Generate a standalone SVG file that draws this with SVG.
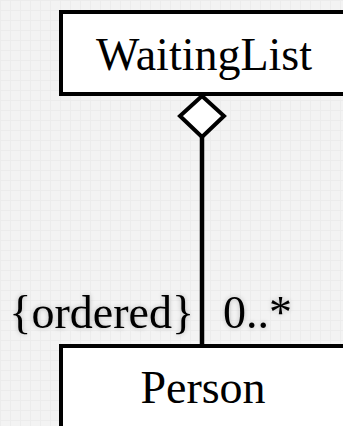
<svg xmlns="http://www.w3.org/2000/svg" width="343" height="426" viewBox="0 0 343 426">
<style>
.box{fill:#ffffff;stroke:#000000;stroke-width:4}
.lbl{font-family:"Liberation Serif","Times New Roman",serif;font-size:46px;fill:#000000}
.conn{stroke:#000000;stroke-width:4.5;fill:none}
</style>
<defs>
<pattern id="grid" width="10" height="10" patternUnits="userSpaceOnUse">
<rect width="10" height="10" fill="#f3f3f3"/>
<path d="M0 0.5H10M0.5 0V10" stroke="#ececec" stroke-width="1"/>
</pattern>
<filter id="sh" x="-10%" y="-20%" width="120%" height="140%">
<feGaussianBlur in="SourceAlpha" stdDeviation="2.5"/>
<feComponentTransfer><feFuncA type="linear" slope="0.25"/></feComponentTransfer>
<feMerge><feMergeNode/><feMergeNode in="SourceGraphic"/></feMerge>
</filter>
</defs>
<rect width="343" height="426" fill="url(#grid)"/>
<g id="connectors">
<line class="conn" x1="202" y1="136" x2="202" y2="346"/>
<polygon points="202,96 224,116 202,137 180,116" fill="#ffffff" stroke="#000000" stroke-width="4"/>
<text class="lbl" x="194" y="328" text-anchor="end" filter="url(#sh)">{ordered}</text>
<text class="lbl" x="223" y="328" filter="url(#sh)">0..*</text>
</g>
<g id="WaitingList">
<rect class="box" x="61" y="12" width="290" height="82"/>
<text class="lbl" x="204" y="70" text-anchor="middle">WaitingList</text>
</g>
<g id="Person">
<rect class="box" x="61" y="346" width="290" height="100"/>
<text class="lbl" x="203" y="403" text-anchor="middle">Person</text>
</g>
</svg>
